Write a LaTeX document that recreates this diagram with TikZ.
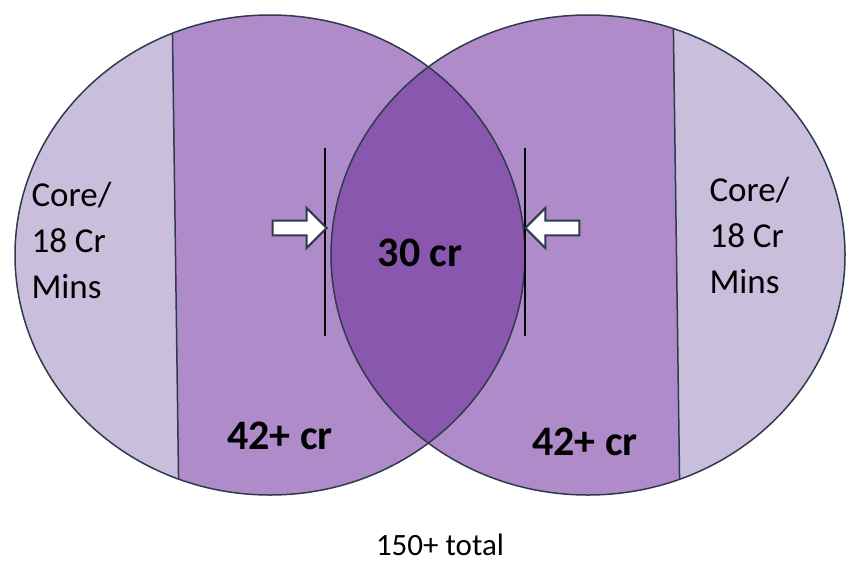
\documentclass[tikz,border=0pt]{standalone}
\usepackage{fontspec}
\setmainfont{Carlito}
\usetikzlibrary{shapes.arrows}
\definecolor{lightlav}{HTML}{C9BFDC}
\definecolor{midlav}{HTML}{B08BC9}
\definecolor{darklav}{HTML}{8A57AF}
\definecolor{edge}{HTML}{2E3A4E}

\begin{document}
\begin{tikzpicture}[x=1pt,y=-1pt]
    \tikzset{outline/.style={draw=edge, line width=1.5pt}}
    \tikzset{blockarrow/.style={single arrow, draw=edge, fill=white, line width=2pt,
                               minimum height=54pt, minimum width=40pt,
                               single arrow head extend=7pt, inner sep=3pt}}
    \tikzset{label/.style={font=\fontsize{35}{46}\selectfont, align=left}}
    \tikzset{bold/.style={font=\fontsize{42}{48}\selectfont\bfseries}}
    \useasboundingbox (0,0) rectangle (851,584);

    % circles and their bands
    \fill[midlav] (270,255) ellipse [x radius=255, y radius=240];
    \fill[midlav] (588,255) ellipse [x radius=257, y radius=240];
    \begin{scope}
        \clip (0,0) -- (172,0) -- (180,584) -- (0,584) -- cycle;
        \fill[lightlav] (270,255) ellipse [x radius=255, y radius=240];
    \end{scope}
    \begin{scope}
        \clip (673,0) -- (851,0) -- (851,584) -- (681,584) -- cycle;
        \fill[lightlav] (588,255) ellipse [x radius=257, y radius=240];
    \end{scope}
    \begin{scope}
        \clip (270,255) ellipse [x radius=255, y radius=240];
        \fill[darklav] (588,255) ellipse [x radius=257, y radius=240];
    \end{scope}
    \begin{scope}
        \clip (270,255) ellipse [x radius=255, y radius=240];
        \draw[outline] (172,0) -- (180,584);
    \end{scope}
    \begin{scope}
        \clip (588,255) ellipse [x radius=257, y radius=240];
        \draw[outline] (673,0) -- (681,584);
    \end{scope}
    \draw[outline] (270,255) ellipse [x radius=255, y radius=240];
    \draw[outline] (588,255) ellipse [x radius=257, y radius=240];

    % limits and arrows
    \coordinate (L1) at (325,148);
    \coordinate (L2) at (325,336);
    \coordinate (R1) at (525,148);
    \coordinate (R2) at (525,336);
    \draw[line width=2pt] (L1) -- (L2);
    \draw[line width=2pt] (R1) -- (R2);
    \node (A1) [blockarrow] at (296,228) {};
    \node (A2) [blockarrow, shape border rotate=180] at (556,228) {};

    % texts
    \node (CoreL) [label, anchor=west] at (28,240) {Core/\\18 Cr\\Mins};
    \node (CoreR) [label, anchor=west] at (706,235) {Core/\\18 Cr\\Mins};
    \node (Mid) [bold] at (420,253) {30 cr};
    \node (BandL) [bold] at (280,436) {42+ cr};
    \node (BandR) [bold] at (585,442) {42+ cr};
    \node (Total) [font=\fontsize{31}{36}\selectfont] at (440,545) {150+ total};

\end{tikzpicture}
\end{document}
